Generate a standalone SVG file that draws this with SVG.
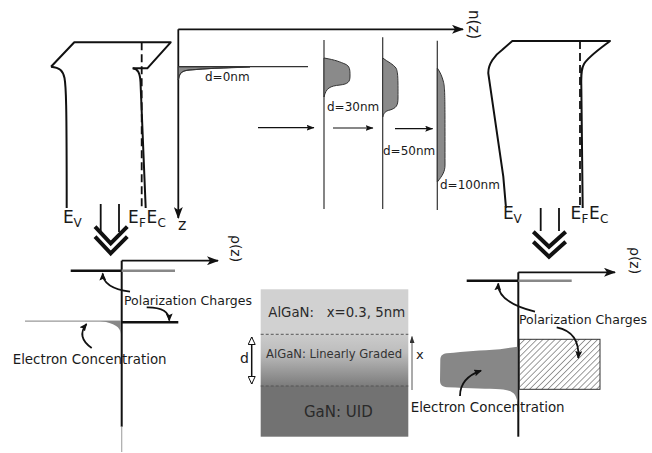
<svg xmlns="http://www.w3.org/2000/svg" width="652" height="453" viewBox="0 0 652 453">
<style>
text{font-family:"DejaVu Sans","Liberation Sans",sans-serif;fill:#1a1a1a}
.band{fill:none;stroke:#111;stroke-width:2;stroke-linejoin:round}
.dash{fill:none;stroke:#111;stroke-width:1.8;stroke-dasharray:8,4}
.axis{fill:none;stroke:#111;stroke-width:1.8}
.thin{fill:none;stroke:#333;stroke-width:1.2}
.bump{fill:#8a8a8a;stroke:#333;stroke-width:1}
.arr{fill:none;stroke:#111;stroke-width:1.2}
.carr{fill:none;stroke:#111;stroke-width:1.8}
.chev{fill:none;stroke:#111;stroke-width:4;stroke-linejoin:miter}
.pol{stroke:#111;stroke-width:2.6}
.polg{stroke:#888;stroke-width:2.6}
.pc{font-size:12.5px}
.ec{font-size:13.4px}
.E{font-size:17px}
.sub{font-size:12px}
</style>
<defs>
<marker id="ah" markerUnits="userSpaceOnUse" markerWidth="12" markerHeight="9" refX="11" refY="4.5" orient="auto">
<path d="M0,0 L12,4.5 L0,9 L3,4.5 Z" fill="#111"/>
</marker>
<marker id="sah" markerUnits="userSpaceOnUse" markerWidth="8" markerHeight="6" refX="7.5" refY="3" orient="auto">
<path d="M0,0 L8,3 L0,6 L1.5,3 Z" fill="#111"/>
</marker>
<marker id="cah" markerUnits="userSpaceOnUse" markerWidth="8" markerHeight="7" refX="7" refY="3.5" orient="auto">
<path d="M0,0 L8,3.5 L0,7 L1.5,3.5 Z" fill="#111"/>
</marker>
<marker id="oah" markerUnits="userSpaceOnUse" markerWidth="9" markerHeight="8" refX="8" refY="4" orient="auto-start-reverse">
<path d="M0.5,0.5 L8,4 L0.5,7.5 Z" fill="#fff" stroke="#111" stroke-width="1"/>
</marker>
<marker id="xah" markerUnits="userSpaceOnUse" markerWidth="7" markerHeight="5" refX="6.5" refY="2.5" orient="auto">
<path d="M0,0 L7,2.5 L0,5 Z" fill="#333"/>
</marker>
<pattern id="hatch" patternUnits="userSpaceOnUse" width="4.3" height="4.3" patternTransform="rotate(45)">
<line x1="0" y1="0" x2="0" y2="4.3" stroke="#222" stroke-width="0.9"/>
</pattern>
<linearGradient id="grad" x1="0" y1="0" x2="0" y2="1">
<stop offset="0" stop-color="#cbcbcb"/>
<stop offset="0.35" stop-color="#bdbdbd"/>
<stop offset="1" stop-color="#7c7c7c"/>
</linearGradient>
</defs>

<g id="band-left">
<path class="band" d="M51,66.7 L74.3,42.3 L170.7,42.3 L147.3,68.3 L132.7,68.3"/>
<path class="band" d="M51,66.7 C60,67.5 63,71 64.5,78 C66,86 66.7,100 66.7,208"/>
<path class="band" d="M132.7,68.3 C138,69 140,73 140.5,82 L145.7,208"/>
<path class="dash" d="M141.7,42.3 V208"/>
<text class="E" x="63" y="223">E<tspan class="sub" x="73.5" dy="4">V</tspan></text>
<text class="E" x="128" y="223">E<tspan class="sub" x="139" dy="4">F</tspan><tspan x="146.5" dy="-4">E</tspan><tspan class="sub" x="157.5" dy="4">C</tspan></text>
</g>

<g id="nz-plot">
<path class="axis" d="M178.3,29.3 H463" marker-end="url(#ah)"/>
<path class="axis" d="M178.3,29.3 V218" marker-end="url(#ah)"/>
<text font-size="15" transform="translate(469,10) rotate(90)">n(z)</text>
<text font-size="16" x="178" y="230">z</text>
<path class="bump" stroke="none" d="M178.3,66.7 L250,66.7 C220,68 195,69 186,70.5 C181,71.5 179,74 178.3,80 Z"/>
<path class="thin" d="M178.3,80 C179,74 181,71.5 186,70.5 C195,69 220,68 250,67"/>
<path class="thin" d="M178.3,66.7 H308"/>
<text font-size="12" x="205" y="80.5">d=0nm</text>
<path class="thin" d="M324,40 V209"/>
<path class="bump" d="M324,58 C336,60 340,62 345,64 C350,66 350,70 350,76 C350,82 348,84 340,85 C330,86 326,88 324,97 Z"/>
<text font-size="12" x="327" y="110.7">d=30nm</text>
<path class="thin" d="M382.7,37.3 V209"/>
<path class="bump" d="M382.7,58 C388,62 393,64 396,68 C398,72 398,78 398,98 C398,106 396,108 390,110 C385,111 384,113 382.7,117 Z"/>
<text font-size="12" x="383" y="155">d=50nm</text>
<path class="thin" d="M437.3,40.7 V210"/>
<path class="bump" d="M437.3,68 C440,72 442,76 443.5,82 C445,88 445,95 445,165 C445,172 442,176 437.3,182 Z"/>
<text font-size="12" x="440" y="189.3">d=100nm</text>
</g>

<g id="band-right">
<path class="band" d="M506,208 L503.3,176.7 L488.3,73.3 C488,64 495,55 502,50 L512.3,41 L610,41 C598,50 588,57 584,64 C581,69 581,75 581.3,85 L582.7,208"/>
<path class="dash" d="M580,41 V208"/>
<text class="E" x="503" y="219.3">E<tspan class="sub" x="513.5" dy="4">V</tspan></text>
<text class="E" x="570.5" y="219.3">E<tspan class="sub" x="581.5" dy="4">F</tspan><tspan x="589" dy="-4">E</tspan><tspan class="sub" x="600" dy="4">C</tspan></text>
</g>

<g id="rho-left">
<path class="axis" d="M121.7,260.7 H218" marker-end="url(#ah)"/>
<path d="M121.7,260.7 V426.7" stroke="#111" stroke-width="2"/>
<path d="M121.7,426.7 V452" stroke="#aaa" stroke-width="1.2"/>
<text font-size="14" transform="translate(231,235) rotate(90)">ρ(z)</text>
<path class="pol" d="M70.7,270.7 H121.7"/>
<path class="polg" d="M121.7,270.7 H175"/>
<path class="pol" d="M121.7,322.3 H178.3"/>
<path d="M25,321.2 H121" stroke="#999" stroke-width="1.3"/>
<path d="M100,321 L121,321 L121,334 C120,327 115,323 100,321 Z" fill="#888"/>
<text class="pc" x="124" y="305">Polarization Charges</text>
<text class="ec" x="12.7" y="364.3">Electron Concentration</text>
</g>

<g id="layers">
<rect x="260.7" y="289.3" width="147.6" height="45" fill="#d1d1d1"/>
<rect x="260.7" y="334.3" width="147.6" height="51.7" fill="url(#grad)"/>
<rect x="260.7" y="386" width="147.6" height="50.7" fill="#727272"/>
<path d="M260.7,334.3 H408.3 M260.7,386 H408.3" stroke="#555" stroke-width="1" stroke-dasharray="3,2"/>
<text x="268.3" y="317.3" font-size="13.3" xml:space="preserve" style="fill:#2a2a2a">AlGaN:   x=0.3, 5nm</text>
<text x="266" y="358.3" font-size="11.6" style="fill:#333">AlGaN: Linearly Graded</text>
<text x="304" y="416.7" font-size="15" style="fill:#2a2a2a">GaN: UID</text>
<path d="M251.7,337 V384" stroke="#111" stroke-width="1.5" marker-start="url(#oah)" marker-end="url(#oah)"/>
<text x="240" y="363.3" font-size="14">d</text>
<path d="M412,390 V336.5" stroke="#444" stroke-width="0.9" marker-end="url(#xah)"/>
<text x="416" y="359" font-size="13">x</text>
</g>

<g id="rho-right">
<path class="axis" d="M518.3,272.3 H615" marker-end="url(#ah)"/>
<path d="M518.3,272.3 V436.7" stroke="#111" stroke-width="2"/>
<text font-size="14" transform="translate(629.5,247) rotate(90)">ρ(z)</text>
<path class="pol" d="M466.7,280.7 H518.3"/>
<path class="polg" d="M518.3,280.7 H571.7"/>
<rect x="519.3" y="339.3" width="80.7" height="50" fill="url(#hatch)" stroke="#333" stroke-width="1"/>
<path d="M517.5,346.7 L500,349.3 C480,350.5 466,351.7 446.7,353.3 C442,354 440.5,356 440.3,360 L440,380 C440,385 442,386.7 447,387.3 C470,388.3 490,389 500,389.3 C509,390 513,392 515,395 C516.5,398 517,400 517.5,402 Z" fill="#878787"/>
<text class="pc" x="519" y="324">Polarization Charges</text>
<text class="ec" x="410.7" y="411.7">Electron Concentration</text>
</g>

<g id="connectors">
<path d="M100.7,204 V232 M119,204 V232" stroke="#111" stroke-width="1.8"/>
<path class="chev" d="M95,226.7 L110.7,243.3 L127.3,226.7 M95,236.7 L110.7,253.3 L127.3,236.7"/>
<path d="M540.7,208 V231 M559,208 V231" stroke="#111" stroke-width="1.8"/>
<path class="chev" d="M533.3,231.7 L549,246.7 L565.7,231.7 M533.3,241.7 L549,256.7 L565.7,241.7"/>
<path class="arr" d="M258,127.7 H314" marker-end="url(#sah)"/>
<path class="arr" d="M333,128 H373" marker-end="url(#sah)"/>
<path class="arr" d="M395,128.7 H432.7" marker-end="url(#sah)"/>
<path class="carr" d="M130,291.7 Q103,288 102.7,273.5" marker-end="url(#cah)"/>
<path class="carr" d="M146.7,307.3 Q169,307 169.3,320.5" marker-end="url(#cah)"/>
<path class="carr" d="M91.7,348 Q76,337 86.5,324" marker-end="url(#cah)"/>
<path class="carr" d="M535,311.7 Q497,302 498.3,283.5" marker-end="url(#cah)"/>
<path class="carr" d="M556.7,327.3 Q580,332 578.3,358" marker-end="url(#cah)"/>
<path class="carr" d="M460,396 Q460,378 481,370.7" marker-end="url(#cah)"/>
</g>
</svg>
